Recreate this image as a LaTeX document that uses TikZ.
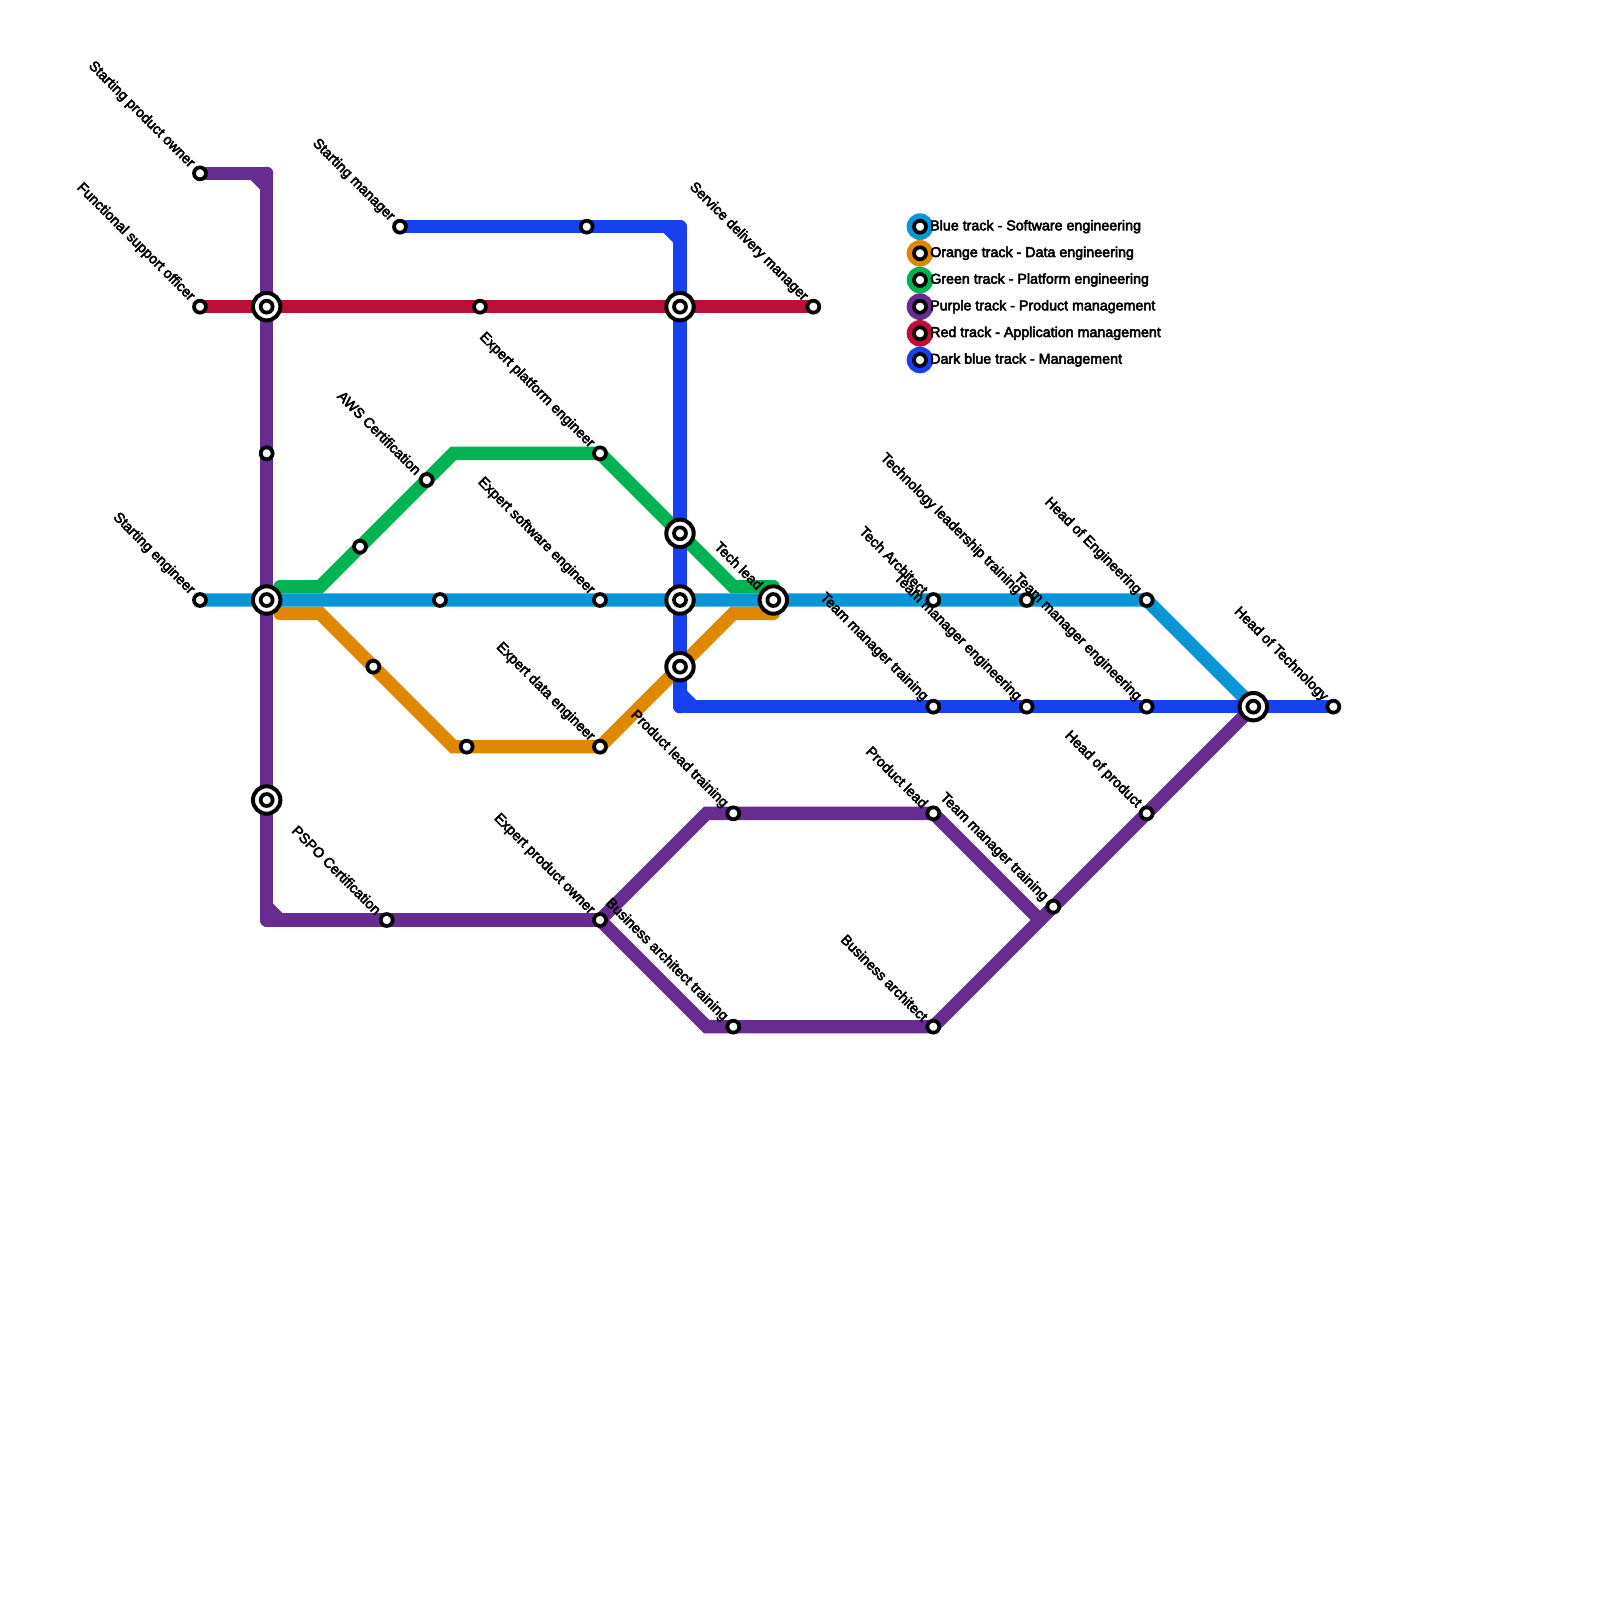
\documentclass[tikz,border=0pt]{standalone}
\usepackage{fontspec}
\setmainfont[FakeBold=3.5]{Liberation Sans}
\usetikzlibrary{calc}
\definecolor{tblue}{HTML}{0896D7}
\definecolor{torange}{HTML}{E08700}
\definecolor{tgreen}{HTML}{00B251}
\definecolor{tpurple}{HTML}{662C90}
\definecolor{tred}{HTML}{BC1038}
\definecolor{tdark}{HTML}{1740F0}
\tikzset{
  track/.style={line width=0.4cm,line cap=round,line join=miter},
  chamfer/.style={line width=0.4cm,line cap=butt},
  stn/.style={circle,draw=black,fill=white,line width=3.2pt,minimum size=10.2pt,inner sep=0pt},
  hub/.style={circle,draw=black,fill=white,line width=3.4pt,minimum size=23.4pt,inner sep=0pt},
  lbl/.style={font=\fontsize{12.17}{14}\selectfont,text=black,inner sep=0pt,anchor=east,rotate=-45},
  key/.style={font=\fontsize{12.17}{14}\selectfont,text=black,inner sep=0pt,anchor=west},
  dot/.style={circle,minimum size=0.8cm,inner sep=0pt},
}
\newcommand{\stlabel}[3]{\node[lbl] (#1) at ($(#2)+(-.58,-.58)$) {#3};}
\begin{document}
\begin{tikzpicture}[x=0.4cm,y=-0.4cm]
\useasboundingbox (0,0) rectangle (120,120);
% purple
\coordinate (spo) at (15,13);
\coordinate (pc1) at (20,13);
\coordinate (pc1a) at (19,13);
\coordinate (pc1b) at (20,14);
\coordinate (h1) at (20,23);
\coordinate (pd1) at (20,34);
\coordinate (h2) at (20,45);
\coordinate (h3) at (20,60);
\coordinate (pc2) at (20,69);
\coordinate (pc2a) at (20,68);
\coordinate (pc2b) at (21,69);
\coordinate (pspo) at (29,69);
\coordinate (epo) at (45,69);
\coordinate (pu1) at (53,61);
\coordinate (plt) at (55,61);
\coordinate (pl) at (70,61);
\coordinate (pj) at (78,69);
\coordinate (pu2) at (53,77);
\coordinate (bat) at (55,77);
\coordinate (ba) at (70,77);
\coordinate (tmt2) at (79,68);
\coordinate (hop) at (86,61);
\coordinate (h7) at (94,53);
% red
\coordinate (fso) at (15,23);
\coordinate (rd) at (36,23);
\coordinate (h4) at (51,23);
\coordinate (sdm) at (61,23);
% dark blue
\coordinate (sm) at (30,17);
\coordinate (dd) at (44,17);
\coordinate (dc1) at (51,17);
\coordinate (dc1a) at (50,17);
\coordinate (dc1b) at (51,18);
\coordinate (h5) at (51,40);
\coordinate (h6) at (51,45);
\coordinate (h8) at (51,50);
\coordinate (dc2) at (51,53);
\coordinate (dc2a) at (51,52);
\coordinate (dc2b) at (52,53);
\coordinate (tmt1) at (70,53);
\coordinate (tme1) at (77,53);
\coordinate (tme2) at (86,53);
\coordinate (hot) at (100,53);
% blue
\coordinate (se) at (15,45);
\coordinate (bd) at (33,45);
\coordinate (ese) at (45,45);
\coordinate (h9) at (58,45);
\coordinate (ta) at (70,45);
\coordinate (tlt) at (77,45);
\coordinate (hoe) at (86,45);
% green
\coordinate (g0) at (21,44);
\coordinate (g1) at (24,44);
\coordinate (gd) at (27,41);
\coordinate (aws) at (32,36);
\coordinate (g2) at (34,34);
\coordinate (epe) at (45,34);
\coordinate (g3) at (55,44);
\coordinate (g4) at (58,44);
% orange
\coordinate (o0) at (21,46);
\coordinate (o1) at (24,46);
\coordinate (od) at (28,50);
\coordinate (o2) at (34,56);
\coordinate (od2) at (35,56);
\coordinate (ede) at (45,56);
\coordinate (o3) at (55,46);
\coordinate (o4) at (58,46);
% legend
\coordinate (k1) at (69,17);
\coordinate (k2) at (69,19);
\coordinate (k3) at (69,21);
\coordinate (k4) at (69,23);
\coordinate (k5) at (69,25);
\coordinate (k6) at (69,27);

% tracks
\draw[track,tgreen] (g0) -- (g1) -- (g2) -- (epe) -- (g3) -- (g4);
\draw[track,torange] (o0) -- (o1) -- (o2) -- (ede) -- (o3) -- (o4);
\draw[track,tblue] (se) -- (hoe) -- (h7);
\draw[track,tpurple] (spo) -- (pc1);
\draw[track,tpurple] (pc1) -- (pc2);
\draw[track,tpurple] (pc2) -- (epo);
\draw[chamfer,tpurple] (pc1a) -- (pc1b);
\draw[chamfer,tpurple] (pc2a) -- (pc2b);
\draw[track,tpurple] (epo) -- (pu1) -- (pl) -- (pj);
\draw[track,tpurple] (epo) -- (pu2) -- (ba) -- (h7);
\draw[track,tred] (fso) -- (sdm);
\draw[track,tdark] (sm) -- (dc1);
\draw[track,tdark] (dc1) -- (dc2);
\draw[track,tdark] (dc2) -- (hot);
\draw[chamfer,tdark] (dc1a) -- (dc1b);
\draw[chamfer,tdark] (dc2a) -- (dc2b);

% legend swatches
\node[dot,fill=tblue] (d1) at (k1) {};
\node[dot,fill=torange] (d2) at (k2) {};
\node[dot,fill=tgreen] (d3) at (k3) {};
\node[dot,fill=tpurple] (d4) at (k4) {};
\node[dot,fill=tred] (d5) at (k5) {};
\node[dot,fill=tdark] (d6) at (k6) {};
\foreach \k in {k1,k2,k3,k4,k5,k6} \node[stn] (s\k) at (\k) {};

% interchanges
\foreach \h in {h1,h2,h3,h4,h5,h6,h7,h8,h9} {
  \node[hub] (r\h) at (\h) {};
  \node[stn] (s\h) at (\h) {};
}
% stations
\foreach \s in {spo,fso,se,pd1,sm,dd,rd,sdm,gd,aws,epe,bd,ese,od,od2,ede,pspo,epo,plt,pl,bat,ba,tmt2,hop,tmt1,tme1,tme2,hot,ta,tlt,hoe}
  \node[stn] (s\s) at (\s) {};

% labels
\stlabel{lspo}{spo}{Starting product owner}
\stlabel{lfso}{fso}{Functional support officer}
\stlabel{lse}{se}{Starting engineer}
\stlabel{lsm}{sm}{Starting manager}
\stlabel{lsdm}{sdm}{Service delivery manager}
\stlabel{laws}{aws}{AWS Certification}
\stlabel{lepe}{epe}{Expert platform engineer}
\stlabel{lese}{ese}{Expert software engineer}
\stlabel{lede}{ede}{Expert data engineer}
\stlabel{lpspo}{pspo}{PSPO Certification}
\stlabel{lepo}{epo}{Expert product owner}
\stlabel{lplt}{plt}{Product lead training}
\stlabel{lbat}{bat}{Business architect training}
\stlabel{lpl}{pl}{Product lead}
\stlabel{lba}{ba}{Business architect}
\stlabel{ltmta}{tmt2}{Team manager training}
\stlabel{lhop}{hop}{Head of product}
\stlabel{lhoe}{hoe}{Head of Engineering}
\stlabel{ltlt}{tlt}{Technology leadership training}
\stlabel{lta}{ta}{Tech Architect}
\stlabel{ltmea}{tme1}{Team manager engineering}
\stlabel{ltmeb}{tme2}{Team manager engineering}
\stlabel{ltmtb}{tmt1}{Team manager training}
\stlabel{lhot}{hot}{Head of Technology}
\node[lbl] (ltl) at ($(h9)+(-.95,-.95)$) {Tech lead};

% legend text
\node[key] (t1) at ($(k1)+(.75,0)$) {Blue track - Software engineering};
\node[key] (t2) at ($(k2)+(.75,0)$) {Orange track - Data engineering};
\node[key] (t3) at ($(k3)+(.75,0)$) {Green track - Platform engineering};
\node[key] (t4) at ($(k4)+(.75,0)$) {Purple track - Product management};
\node[key] (t5) at ($(k5)+(.75,0)$) {Red track - Application management};
\node[key] (t6) at ($(k6)+(.75,0)$) {Dark blue track - Management};
\end{tikzpicture}
\end{document}
